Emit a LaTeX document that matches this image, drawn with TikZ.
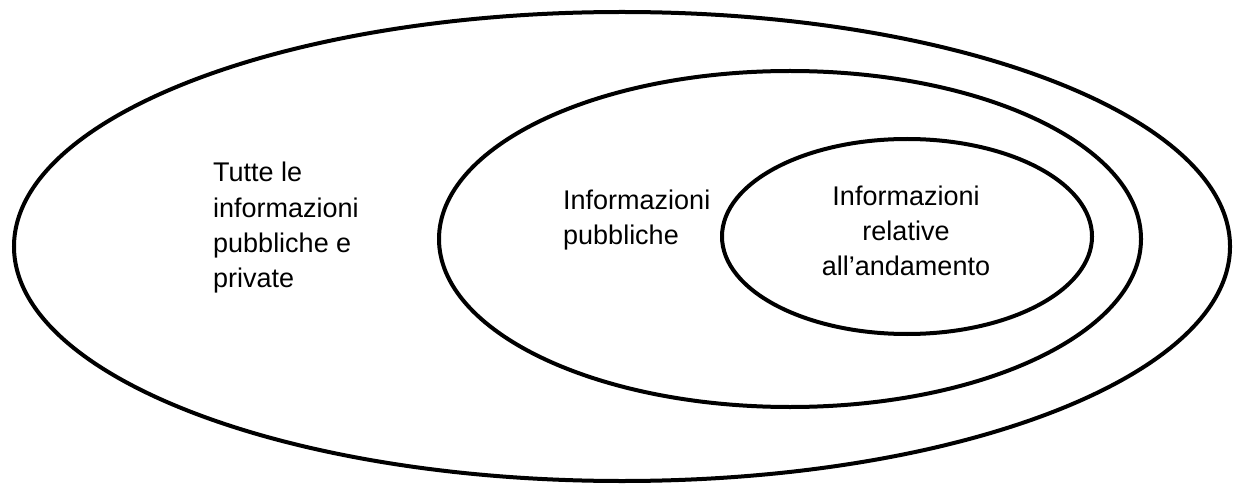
\documentclass[tikz,border=0pt]{standalone}
\usepackage{fontspec}
\setmainfont{Liberation Sans}
\usetikzlibrary{shapes.geometric}
\begin{document}
\begin{tikzpicture}[x=1pt,y=-1pt,
  set/.style={draw=black,line width=4pt,ellipse,inner sep=0pt},
  lbl/.style={inner sep=0pt,font=\fontsize{27}{35}\selectfont}]
\useasboundingbox (0,0) rectangle (1238,486);
\node[set,minimum width=1216pt,minimum height=469pt] (outer) at (622,246.5) {};
\node[set,minimum width=702pt,minimum height=336pt] (middle) at (790,239) {};
\node[set,minimum width=370pt,minimum height=195pt] (inner) at (907,236.5) {};
\node[lbl,align=left,anchor=base west] (t1) at (213,287) {Tutte le\\informazioni\\pubbliche e\\private};
\node[lbl,align=left,anchor=base west] (t2) at (563,244) {Informazioni\\pubbliche};
\node[lbl,align=center,anchor=base] (t3) at (906,275) {Informazioni\\relative\\all’andamento};
\end{tikzpicture}
\end{document}
